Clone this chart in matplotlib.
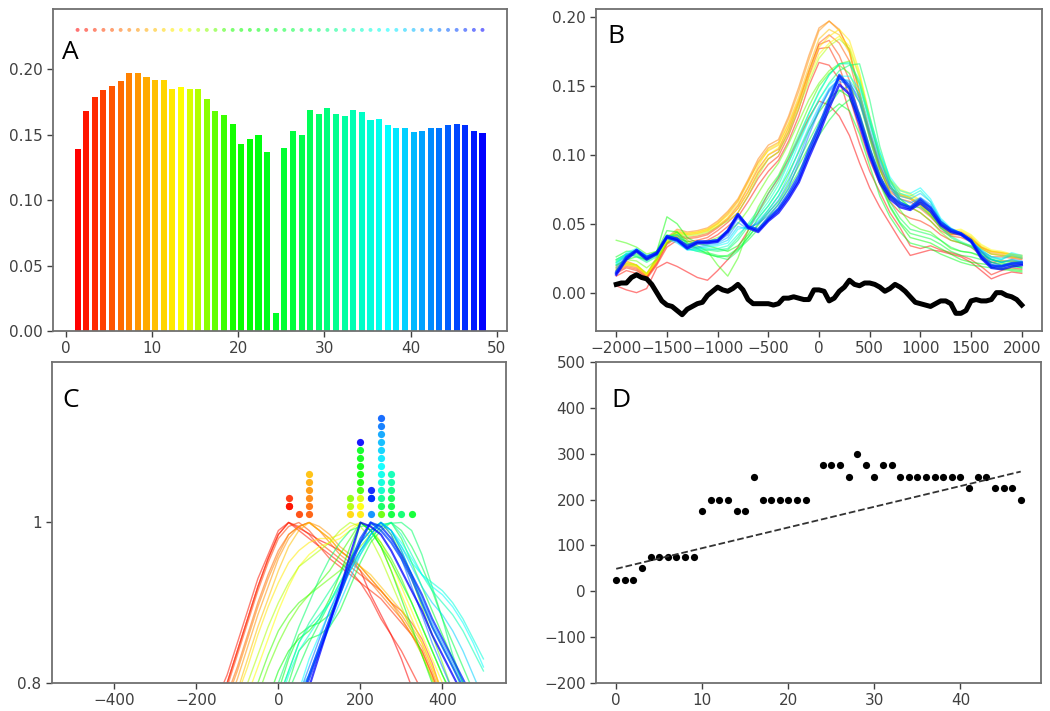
import numpy as np
import matplotlib.pyplot as plt
from matplotlib.colors import hsv_to_rgb

# ---- per-channel summary (48 channels) ----
n_chan = 48
peak_height = [0.139, 0.168, 0.179, 0.184, 0.1875, 0.191, 0.197, 0.197, 0.194, 0.192,
               0.192, 0.185, 0.186, 0.185, 0.185, 0.177, 0.168, 0.165, 0.158, 0.143,
               0.147, 0.150, 0.137, 0.0138, 0.140, 0.153, 0.150, 0.169, 0.166, 0.170,
               0.166, 0.164, 0.169, 0.167, 0.161, 0.162, 0.157, 0.155, 0.155, 0.152,
               0.153, 0.155, 0.155, 0.157, 0.158, 0.157, 0.153, 0.151]
peak_lag = [25, 25, 25, 50, 75, 75, 75, 75, 75, 75,
            175, 200, 200, 200, 175, 175, 250, 200, 200, 200,
            200, 200, 200, 325, 275, 275, 275, 250, 300, 275,
            250, 275, 275, 250, 250, 250, 250, 250, 250, 250,
            250, 225, 250, 250, 225, 225, 225, 200]
# stacking level of each channel's marker above 1.0 in panel C
stack_level = [2, 2, 3, 1, 1, 2, 3, 4, 5, 6,
               1, 1, 2, 3, 2, 3, 1, 4, 5, 6,
               7, 8, 9, 1, 1, 2, 3, 2, 1, 4,
               3, 5, 6, 4, 5, 6, 7, 8, 9, 10,
               11, 1, 12, 13, 3, 3, 4, 10]
control_chan = 23          # shuffled control, drawn in black in B
trend_x = [0, 47]
trend_y = [49, 261]

# ---- cross-correlation traces, lag -2000..2000 ms in 100 ms steps ----
lag_b = np.arange(-2000, 2001, 100)
trace_b00 = [0.005, 0.002, 0.000, 0.003, 0.018, 0.022, 0.019, 0.015, 0.011, 0.009,
             0.016, 0.024, 0.033, 0.045, 0.058, 0.072, 0.083, 0.097, 0.112, 0.127,
             0.139, 0.136, 0.128, 0.114, 0.094, 0.076, 0.062, 0.050, 0.038, 0.027,
             0.029, 0.031, 0.030, 0.028, 0.026, 0.022, 0.016, 0.010, 0.013, 0.015,
             0.014]
trace_b01 = [0.012, 0.016, 0.014, 0.010, 0.020, 0.033, 0.038, 0.035, 0.036, 0.038,
             0.042, 0.048, 0.055, 0.066, 0.078, 0.088, 0.096, 0.110, 0.128, 0.150,
             0.167, 0.165, 0.155, 0.131, 0.108, 0.088, 0.073, 0.058, 0.047, 0.034,
             0.032, 0.034, 0.031, 0.029, 0.027, 0.024, 0.019, 0.013, 0.016, 0.018,
             0.017]
trace_b02 = [0.014, 0.018, 0.016, 0.011, 0.021, 0.035, 0.040, 0.037, 0.038, 0.040,
             0.045, 0.051, 0.058, 0.070, 0.083, 0.093, 0.099, 0.114, 0.133, 0.157,
             0.177, 0.178, 0.164, 0.142, 0.118, 0.096, 0.079, 0.066, 0.058, 0.054,
             0.052, 0.048, 0.042, 0.038, 0.036, 0.033, 0.027, 0.022, 0.023, 0.023,
             0.022]
trace_b03 = [0.015, 0.019, 0.017, 0.011, 0.022, 0.036, 0.041, 0.039, 0.040, 0.042,
             0.047, 0.053, 0.061, 0.073, 0.087, 0.097, 0.102, 0.117, 0.137, 0.160,
             0.180, 0.183, 0.172, 0.154, 0.128, 0.104, 0.085, 0.070, 0.064, 0.062,
             0.058, 0.052, 0.045, 0.041, 0.040, 0.037, 0.030, 0.026, 0.026, 0.025,
             0.024]
trace_b04 = [0.016, 0.020, 0.018, 0.012, 0.023, 0.036, 0.042, 0.040, 0.041, 0.043,
             0.048, 0.054, 0.063, 0.076, 0.090, 0.100, 0.104, 0.120, 0.139, 0.161,
             0.181, 0.187, 0.181, 0.168, 0.140, 0.112, 0.089, 0.073, 0.068, 0.066,
             0.061, 0.055, 0.047, 0.042, 0.043, 0.039, 0.032, 0.028, 0.027, 0.026,
             0.025]
trace_b06 = [0.019, 0.023, 0.020, 0.013, 0.026, 0.040, 0.046, 0.044, 0.045, 0.047,
             0.052, 0.059, 0.068, 0.082, 0.097, 0.107, 0.111, 0.128, 0.149, 0.172,
             0.192, 0.197, 0.191, 0.175, 0.144, 0.114, 0.090, 0.074, 0.070, 0.068,
             0.063, 0.056, 0.047, 0.042, 0.042, 0.039, 0.033, 0.030, 0.029, 0.028,
             0.027]
trace_b07 = [0.017, 0.021, 0.019, 0.012, 0.024, 0.038, 0.044, 0.042, 0.043, 0.045,
             0.050, 0.057, 0.066, 0.080, 0.095, 0.105, 0.109, 0.126, 0.146, 0.169,
             0.190, 0.197, 0.190, 0.176, 0.146, 0.117, 0.093, 0.076, 0.071, 0.069,
             0.064, 0.057, 0.048, 0.043, 0.044, 0.040, 0.033, 0.029, 0.028, 0.026,
             0.025]
trace_b09 = [0.018, 0.022, 0.020, 0.014, 0.025, 0.039, 0.045, 0.043, 0.044, 0.046,
             0.051, 0.058, 0.067, 0.081, 0.094, 0.103, 0.107, 0.123, 0.142, 0.164,
             0.184, 0.191, 0.187, 0.174, 0.145, 0.116, 0.092, 0.076, 0.071, 0.068,
             0.063, 0.056, 0.048, 0.043, 0.044, 0.040, 0.033, 0.030, 0.029, 0.027,
             0.026]
trace_b11 = [0.018, 0.022, 0.020, 0.013, 0.024, 0.038, 0.044, 0.043, 0.044, 0.046,
             0.050, 0.056, 0.064, 0.077, 0.092, 0.104, 0.108, 0.122, 0.140, 0.160,
             0.178, 0.186, 0.191, 0.183, 0.160, 0.128, 0.100, 0.081, 0.074, 0.071,
             0.066, 0.058, 0.050, 0.044, 0.045, 0.041, 0.034, 0.030, 0.029, 0.027,
             0.026]
trace_b12 = [0.016, 0.020, 0.019, 0.013, 0.023, 0.037, 0.043, 0.042, 0.043, 0.045,
             0.049, 0.054, 0.061, 0.073, 0.088, 0.100, 0.105, 0.119, 0.137, 0.156,
             0.173, 0.181, 0.186, 0.179, 0.158, 0.127, 0.100, 0.082, 0.075, 0.072,
             0.067, 0.059, 0.051, 0.045, 0.046, 0.042, 0.035, 0.031, 0.030, 0.028,
             0.027]
trace_b14 = [0.017, 0.021, 0.020, 0.014, 0.024, 0.037, 0.043, 0.041, 0.042, 0.044,
             0.048, 0.052, 0.058, 0.070, 0.085, 0.097, 0.102, 0.116, 0.134, 0.153,
             0.170, 0.179, 0.184, 0.177, 0.156, 0.126, 0.099, 0.080, 0.072, 0.069,
             0.065, 0.057, 0.049, 0.043, 0.043, 0.039, 0.032, 0.028, 0.027, 0.026,
             0.025]
trace_b16 = [0.020, 0.024, 0.023, 0.018, 0.024, 0.036, 0.040, 0.037, 0.036, 0.037,
             0.040, 0.044, 0.050, 0.060, 0.072, 0.084, 0.094, 0.108, 0.124, 0.140,
             0.152, 0.161, 0.166, 0.168, 0.152, 0.124, 0.097, 0.078, 0.068, 0.062,
             0.058, 0.052, 0.044, 0.038, 0.036, 0.034, 0.029, 0.024, 0.023, 0.022,
             0.021]
trace_b17 = [0.038, 0.036, 0.033, 0.028, 0.030, 0.040, 0.044, 0.038, 0.034, 0.030,
             0.020, 0.012, 0.025, 0.045, 0.062, 0.075, 0.085, 0.100, 0.118, 0.135,
             0.150, 0.159, 0.165, 0.159, 0.142, 0.115, 0.090, 0.072, 0.060, 0.050,
             0.046, 0.044, 0.038, 0.032, 0.030, 0.029, 0.026, 0.022, 0.021, 0.020,
             0.019]
trace_b20 = [0.020, 0.024, 0.026, 0.024, 0.030, 0.055, 0.050, 0.040, 0.036, 0.034,
             0.032, 0.030, 0.034, 0.042, 0.054, 0.063, 0.074, 0.087, 0.102, 0.118,
             0.131, 0.141, 0.147, 0.142, 0.125, 0.102, 0.079, 0.062, 0.050, 0.040,
             0.038, 0.036, 0.032, 0.028, 0.024, 0.022, 0.021, 0.020, 0.018, 0.017,
             0.016]
trace_b22 = [0.026, 0.030, 0.030, 0.026, 0.030, 0.045, 0.044, 0.036, 0.032, 0.028,
             0.026, 0.027, 0.032, 0.040, 0.049, 0.058, 0.066, 0.078, 0.092, 0.106,
             0.120, 0.131, 0.137, 0.132, 0.115, 0.092, 0.070, 0.055, 0.044, 0.036,
             0.034, 0.032, 0.028, 0.025, 0.022, 0.020, 0.019, 0.018, 0.017, 0.016,
             0.015]
trace_b24 = [0.024, 0.028, 0.029, 0.025, 0.029, 0.042, 0.040, 0.034, 0.031, 0.029,
             0.027, 0.026, 0.031, 0.038, 0.046, 0.055, 0.064, 0.075, 0.088, 0.101,
             0.114, 0.125, 0.134, 0.140, 0.130, 0.106, 0.082, 0.063, 0.051, 0.043,
             0.041, 0.039, 0.035, 0.030, 0.027, 0.026, 0.024, 0.022, 0.020, 0.019,
             0.018]
trace_b26 = [0.022, 0.026, 0.028, 0.024, 0.028, 0.040, 0.038, 0.032, 0.030, 0.028,
             0.026, 0.024, 0.030, 0.040, 0.050, 0.060, 0.070, 0.082, 0.096, 0.110,
             0.124, 0.136, 0.146, 0.150, 0.138, 0.112, 0.086, 0.066, 0.054, 0.046,
             0.044, 0.042, 0.038, 0.033, 0.030, 0.029, 0.027, 0.024, 0.022, 0.020,
             0.018]
trace_b28 = [0.023, 0.027, 0.027, 0.023, 0.027, 0.041, 0.042, 0.035, 0.032, 0.031,
             0.030, 0.031, 0.038, 0.048, 0.058, 0.069, 0.081, 0.095, 0.110, 0.126,
             0.140, 0.152, 0.161, 0.165, 0.166, 0.140, 0.106, 0.082, 0.068, 0.062,
             0.062, 0.056, 0.047, 0.040, 0.036, 0.033, 0.028, 0.024, 0.022, 0.023,
             0.022]
trace_b30 = [0.024, 0.028, 0.026, 0.022, 0.026, 0.040, 0.042, 0.036, 0.033, 0.032,
             0.031, 0.032, 0.040, 0.050, 0.060, 0.072, 0.084, 0.098, 0.114, 0.130,
             0.145, 0.158, 0.166, 0.166, 0.151, 0.125, 0.098, 0.078, 0.066, 0.062,
             0.064, 0.058, 0.048, 0.041, 0.037, 0.034, 0.029, 0.024, 0.022, 0.024,
             0.022]
trace_b33 = [0.022, 0.028, 0.030, 0.026, 0.027, 0.040, 0.038, 0.032, 0.030, 0.031,
             0.032, 0.034, 0.042, 0.049, 0.056, 0.066, 0.078, 0.094, 0.112, 0.130,
             0.146, 0.158, 0.166, 0.167, 0.154, 0.128, 0.102, 0.082, 0.072, 0.070,
             0.074, 0.066, 0.052, 0.045, 0.042, 0.036, 0.030, 0.025, 0.024, 0.028,
             0.026]
trace_b36 = [0.021, 0.029, 0.032, 0.027, 0.028, 0.040, 0.037, 0.031, 0.031, 0.033,
             0.034, 0.036, 0.046, 0.048, 0.054, 0.063, 0.074, 0.090, 0.108, 0.125,
             0.140, 0.151, 0.157, 0.157, 0.148, 0.126, 0.102, 0.084, 0.074, 0.072,
             0.076, 0.068, 0.054, 0.047, 0.043, 0.037, 0.031, 0.026, 0.025, 0.029,
             0.027]
trace_b38 = [0.020, 0.028, 0.031, 0.026, 0.028, 0.039, 0.036, 0.031, 0.032, 0.034,
             0.035, 0.038, 0.048, 0.046, 0.052, 0.060, 0.070, 0.085, 0.103, 0.120,
             0.135, 0.148, 0.155, 0.154, 0.144, 0.122, 0.098, 0.080, 0.070, 0.068,
             0.072, 0.066, 0.053, 0.046, 0.042, 0.037, 0.031, 0.026, 0.024, 0.027,
             0.025]
trace_b40 = [0.018, 0.027, 0.030, 0.026, 0.028, 0.040, 0.037, 0.032, 0.033, 0.035,
             0.036, 0.040, 0.051, 0.046, 0.051, 0.058, 0.067, 0.080, 0.098, 0.117,
             0.133, 0.146, 0.153, 0.152, 0.141, 0.118, 0.095, 0.078, 0.068, 0.065,
             0.069, 0.064, 0.052, 0.046, 0.042, 0.037, 0.030, 0.024, 0.022, 0.024,
             0.023]
trace_b42 = [0.016, 0.026, 0.030, 0.025, 0.028, 0.040, 0.038, 0.033, 0.035, 0.036,
             0.037, 0.042, 0.054, 0.047, 0.050, 0.056, 0.064, 0.076, 0.094, 0.114,
             0.132, 0.147, 0.155, 0.153, 0.138, 0.115, 0.092, 0.076, 0.066, 0.062,
             0.066, 0.062, 0.052, 0.046, 0.043, 0.038, 0.030, 0.022, 0.020, 0.022,
             0.022]
trace_b44 = [0.015, 0.026, 0.031, 0.026, 0.029, 0.041, 0.039, 0.034, 0.037, 0.037,
             0.038, 0.045, 0.057, 0.048, 0.046, 0.054, 0.061, 0.072, 0.085, 0.104,
             0.121, 0.140, 0.158, 0.150, 0.128, 0.104, 0.084, 0.071, 0.065, 0.062,
             0.068, 0.062, 0.051, 0.046, 0.043, 0.038, 0.027, 0.020, 0.019, 0.021,
             0.022]
trace_b45 = [0.014, 0.025, 0.031, 0.025, 0.029, 0.041, 0.039, 0.033, 0.037, 0.037,
             0.038, 0.045, 0.057, 0.048, 0.045, 0.053, 0.060, 0.070, 0.082, 0.101,
             0.118, 0.138, 0.157, 0.148, 0.125, 0.101, 0.082, 0.070, 0.064, 0.061,
             0.067, 0.061, 0.050, 0.045, 0.043, 0.038, 0.026, 0.019, 0.019, 0.021,
             0.021]
trace_b47 = [0.013, 0.024, 0.030, 0.024, 0.028, 0.040, 0.038, 0.032, 0.036, 0.036,
             0.037, 0.044, 0.056, 0.047, 0.044, 0.052, 0.058, 0.068, 0.080, 0.098,
             0.115, 0.134, 0.151, 0.144, 0.122, 0.099, 0.080, 0.068, 0.062, 0.060,
             0.065, 0.059, 0.049, 0.044, 0.042, 0.037, 0.025, 0.018, 0.017, 0.019,
             0.020]
b_traces = [(0, trace_b00), (1, trace_b01), (2, trace_b02), (3, trace_b03),
            (4, trace_b04), (6, trace_b06), (7, trace_b07), (9, trace_b09),
            (11, trace_b11), (12, trace_b12), (14, trace_b14), (16, trace_b16),
            (17, trace_b17), (20, trace_b20), (22, trace_b22), (24, trace_b24),
            (26, trace_b26), (28, trace_b28), (30, trace_b30), (33, trace_b33),
            (36, trace_b36), (38, trace_b38), (40, trace_b40), (42, trace_b42),
            (44, trace_b44), (45, trace_b45), (47, trace_b47)]

# control channel, 50 ms steps
lag_ctrl = np.arange(-2000, 2001, 50)
trace_ctrl = [0.006, 0.007, 0.007, 0.011, 0.013, 0.011, 0.010, 0.006, 0.000, -0.006,
              -0.009, -0.010, -0.013, -0.016, -0.012, -0.010, -0.008, -0.007, -0.002, 0.001,
              0.004, 0.002, 0.001, 0.003, 0.006, 0.002, -0.005, -0.008, -0.008, -0.008,
              -0.008, -0.009, -0.008, -0.004, -0.004, -0.003, -0.004, -0.005, -0.005, 0.002,
              0.002, 0.001, -0.006, -0.004, 0.001, 0.004, 0.009, 0.006, 0.005, 0.007,
              0.007, 0.006, 0.004, 0.001, 0.003, 0.006, 0.004, 0.001, -0.003, -0.007,
              -0.008, -0.009, -0.010, -0.008, -0.006, -0.006, -0.008, -0.015, -0.015, -0.013,
              -0.006, -0.005, -0.006, -0.006, -0.005, 0.000, 0.000, -0.002, -0.003, -0.005,
              -0.009]

# ---- normalised traces around the peak, lag -200..500 ms in 25 ms steps ----
lag_c = np.arange(-200, 501, 25)
norm_c00 = [0.70, 0.73, 0.77, 0.80, 0.84, 0.88, 0.92, 0.955, 0.985, 1.0,
            0.993, 0.986, 0.978, 0.972, 0.965, 0.955, 0.94, 0.91, 0.885, 0.86,
            0.83, 0.795, 0.76, 0.72, 0.68, 0.64, 0.60, 0.56, 0.52]
norm_c01 = [0.71, 0.745, 0.78, 0.81, 0.85, 0.89, 0.93, 0.96, 0.99, 1.0,
            0.99, 0.98, 0.97, 0.96, 0.95, 0.94, 0.925, 0.905, 0.88, 0.86,
            0.84, 0.815, 0.79, 0.76, 0.73, 0.70, 0.66, 0.62, 0.58]
norm_c02 = [0.70, 0.735, 0.77, 0.80, 0.84, 0.88, 0.92, 0.955, 0.985, 1.0,
            0.995, 0.985, 0.97, 0.955, 0.945, 0.935, 0.925, 0.915, 0.905, 0.89,
            0.875, 0.86, 0.84, 0.81, 0.775, 0.74, 0.70, 0.66, 0.62]
norm_c03 = [0.69, 0.72, 0.76, 0.795, 0.835, 0.875, 0.915, 0.95, 0.98, 0.995,
            1.0, 0.99, 0.975, 0.965, 0.955, 0.945, 0.935, 0.925, 0.915, 0.90,
            0.89, 0.875, 0.855, 0.825, 0.785, 0.75, 0.71, 0.67, 0.63]
norm_c05 = [0.69, 0.72, 0.755, 0.785, 0.82, 0.86, 0.90, 0.935, 0.965, 0.985,
            0.995, 1.0, 0.99, 0.975, 0.96, 0.95, 0.94, 0.925, 0.91, 0.895,
            0.88, 0.86, 0.84, 0.81, 0.775, 0.74, 0.70, 0.66, 0.62]
norm_c06 = [0.68, 0.71, 0.745, 0.78, 0.815, 0.855, 0.895, 0.93, 0.96, 0.985,
            0.995, 1.0, 0.99, 0.98, 0.965, 0.955, 0.945, 0.93, 0.915, 0.90,
            0.885, 0.865, 0.845, 0.815, 0.78, 0.745, 0.705, 0.665, 0.625]
norm_c07 = [0.67, 0.70, 0.735, 0.77, 0.805, 0.845, 0.885, 0.92, 0.955, 0.98,
            0.995, 1.0, 0.995, 0.985, 0.97, 0.96, 0.945, 0.93, 0.915, 0.90,
            0.88, 0.86, 0.835, 0.805, 0.77, 0.735, 0.70, 0.66, 0.62]
norm_c09 = [0.65, 0.685, 0.72, 0.755, 0.79, 0.83, 0.87, 0.905, 0.94, 0.97,
            0.99, 1.0, 0.99, 0.98, 0.965, 0.955, 0.945, 0.935, 0.92, 0.905,
            0.89, 0.87, 0.85, 0.82, 0.785, 0.75, 0.71, 0.67, 0.63]
norm_c11 = [0.66, 0.69, 0.72, 0.75, 0.785, 0.82, 0.86, 0.895, 0.925, 0.95,
            0.965, 0.975, 0.98, 0.98, 0.985, 0.995, 1.0, 0.99, 0.97, 0.94,
            0.91, 0.88, 0.85, 0.82, 0.79, 0.76, 0.72, 0.68, 0.64]
norm_c12 = [0.63, 0.66, 0.69, 0.72, 0.75, 0.785, 0.82, 0.855, 0.89, 0.92,
            0.945, 0.96, 0.97, 0.975, 0.98, 0.99, 1.0, 0.995, 0.975, 0.95,
            0.92, 0.89, 0.86, 0.83, 0.80, 0.77, 0.735, 0.695, 0.655]
norm_c14 = [0.64, 0.67, 0.70, 0.73, 0.765, 0.80, 0.835, 0.87, 0.90, 0.925,
            0.945, 0.955, 0.965, 0.975, 0.99, 1.0, 0.995, 0.98, 0.955, 0.925,
            0.895, 0.865, 0.835, 0.805, 0.775, 0.745, 0.71, 0.675, 0.64]
norm_c16 = [0.58, 0.61, 0.645, 0.68, 0.715, 0.75, 0.785, 0.82, 0.85, 0.875,
            0.895, 0.91, 0.92, 0.93, 0.94, 0.955, 0.97, 0.985, 1.0, 0.985,
            0.96, 0.93, 0.895, 0.86, 0.825, 0.79, 0.755, 0.72, 0.685]
norm_c17 = [0.55, 0.60, 0.64, 0.68, 0.72, 0.76, 0.80, 0.835, 0.865, 0.885,
            0.90, 0.91, 0.925, 0.94, 0.96, 0.98, 1.0, 0.99, 0.975, 0.955,
            0.93, 0.90, 0.87, 0.84, 0.81, 0.78, 0.75, 0.72, 0.69]
norm_c20 = [0.50, 0.54, 0.58, 0.62, 0.66, 0.70, 0.74, 0.78, 0.815, 0.84,
            0.855, 0.865, 0.88, 0.905, 0.935, 0.97, 1.0, 0.99, 0.97, 0.94,
            0.905, 0.87, 0.835, 0.80, 0.765, 0.73, 0.695, 0.66, 0.63]
norm_c22 = [0.47, 0.51, 0.55, 0.59, 0.63, 0.67, 0.71, 0.75, 0.79, 0.83,
            0.86, 0.87, 0.875, 0.885, 0.91, 0.95, 1.0, 0.99, 0.97, 0.95,
            0.925, 0.90, 0.87, 0.84, 0.81, 0.785, 0.76, 0.735, 0.71]
norm_c24 = [0.44, 0.48, 0.52, 0.56, 0.60, 0.64, 0.68, 0.72, 0.76, 0.80,
            0.84, 0.855, 0.86, 0.87, 0.89, 0.92, 0.95, 0.975, 0.99, 1.0,
            0.98, 0.95, 0.92, 0.89, 0.86, 0.83, 0.80, 0.775, 0.75]
norm_c26 = [0.52, 0.55, 0.58, 0.61, 0.64, 0.67, 0.70, 0.73, 0.76, 0.79,
            0.82, 0.85, 0.875, 0.90, 0.925, 0.945, 0.965, 0.98, 0.995, 1.0,
            0.99, 0.97, 0.945, 0.915, 0.88, 0.85, 0.82, 0.79, 0.76]
norm_c28 = [0.48, 0.52, 0.56, 0.60, 0.64, 0.68, 0.72, 0.76, 0.80, 0.835,
            0.87, 0.90, 0.93, 0.955, 0.975, 0.99, 0.995, 0.997, 0.998, 0.999,
            1.0, 0.99, 0.96, 0.92, 0.88, 0.835, 0.80, 0.77, 0.74]
norm_c30 = [0.50, 0.53, 0.56, 0.59, 0.62, 0.66, 0.70, 0.74, 0.78, 0.815,
            0.85, 0.875, 0.895, 0.915, 0.935, 0.955, 0.975, 0.99, 1.0, 0.99,
            0.965, 0.935, 0.90, 0.87, 0.845, 0.82, 0.79, 0.76, 0.73]
norm_c32 = [0.46, 0.50, 0.54, 0.58, 0.62, 0.66, 0.70, 0.74, 0.78, 0.815,
            0.85, 0.87, 0.885, 0.90, 0.92, 0.94, 0.96, 0.98, 0.995, 1.0,
            0.985, 0.96, 0.935, 0.915, 0.90, 0.885, 0.865, 0.84, 0.815]
norm_c34 = [0.45, 0.49, 0.53, 0.57, 0.61, 0.65, 0.69, 0.73, 0.77, 0.81,
            0.84, 0.86, 0.88, 0.90, 0.925, 0.95, 0.975, 0.99, 1.0, 0.99,
            0.97, 0.95, 0.935, 0.925, 0.915, 0.90, 0.88, 0.855, 0.83]
norm_c36 = [0.40, 0.44, 0.48, 0.52, 0.56, 0.60, 0.64, 0.68, 0.72, 0.76,
            0.79, 0.83, 0.86, 0.89, 0.915, 0.94, 0.965, 0.985, 1.0, 0.99,
            0.975, 0.955, 0.935, 0.92, 0.91, 0.895, 0.875, 0.85, 0.82]
norm_c38 = [0.42, 0.46, 0.50, 0.54, 0.58, 0.62, 0.66, 0.70, 0.74, 0.77,
            0.79, 0.81, 0.84, 0.87, 0.90, 0.93, 0.96, 0.985, 1.0, 0.99,
            0.97, 0.945, 0.92, 0.90, 0.885, 0.865, 0.84, 0.81, 0.78]
norm_c40 = [0.38, 0.42, 0.46, 0.50, 0.54, 0.58, 0.62, 0.66, 0.70, 0.74,
            0.775, 0.81, 0.845, 0.88, 0.91, 0.94, 0.965, 0.985, 1.0, 0.99,
            0.965, 0.935, 0.905, 0.875, 0.85, 0.825, 0.80, 0.775, 0.75]
norm_c42 = [0.40, 0.44, 0.48, 0.52, 0.56, 0.60, 0.64, 0.68, 0.72, 0.755,
            0.785, 0.82, 0.855, 0.89, 0.92, 0.95, 0.975, 0.99, 1.0, 0.985,
            0.955, 0.92, 0.885, 0.85, 0.82, 0.79, 0.765, 0.74, 0.72]
norm_c44 = [0.36, 0.40, 0.44, 0.48, 0.52, 0.56, 0.605, 0.65, 0.69, 0.735,
            0.775, 0.81, 0.845, 0.88, 0.915, 0.95, 0.98, 1.0, 0.99, 0.975,
            0.955, 0.93, 0.90, 0.87, 0.845, 0.82, 0.795, 0.77, 0.75]
norm_c45 = [0.35, 0.39, 0.43, 0.47, 0.51, 0.55, 0.60, 0.65, 0.69, 0.73,
            0.77, 0.805, 0.84, 0.875, 0.91, 0.945, 0.975, 1.0, 0.995, 0.98,
            0.96, 0.935, 0.91, 0.88, 0.855, 0.83, 0.805, 0.78, 0.76]
norm_c47 = [0.34, 0.38, 0.42, 0.46, 0.50, 0.54, 0.59, 0.64, 0.68, 0.72,
            0.76, 0.795, 0.835, 0.875, 0.915, 0.96, 1.0, 0.995, 0.985, 0.965,
            0.94, 0.915, 0.89, 0.86, 0.835, 0.81, 0.785, 0.76, 0.74]
c_traces = [(0, norm_c00), (1, norm_c01), (2, norm_c02), (3, norm_c03),
            (5, norm_c05), (6, norm_c06), (7, norm_c07), (9, norm_c09),
            (11, norm_c11), (12, norm_c12), (14, norm_c14), (16, norm_c16),
            (17, norm_c17), (20, norm_c20), (22, norm_c22), (24, norm_c24),
            (26, norm_c26), (28, norm_c28), (30, norm_c30), (32, norm_c32),
            (34, norm_c34), (36, norm_c36), (38, norm_c38), (40, norm_c40),
            (42, norm_c42), (44, norm_c44), (45, norm_c45), (47, norm_c47)]

# red -> yellow -> green -> cyan -> blue, green held a little longer
hue_knots_chan = [0, 12, 18, 27, 36, 47]
hue_knots_val = [0.0, 1 / 6, 0.32, 0.39, 0.5, 2 / 3]
hues = np.interp(np.arange(n_chan), hue_knots_chan, hue_knots_val)
chan_colors = hsv_to_rgb(np.column_stack([hues, np.ones(n_chan), np.ones(n_chan)]))

TICK_COLOR = '#404040'
SPINE_COLOR = '#707070'


def style(ax):
    for sp in ax.spines.values():
        sp.set_color(SPINE_COLOR)
        sp.set_linewidth(1.3)
    ax.tick_params(labelsize=11, colors=TICK_COLOR, length=4, width=1.0)


def panel_label(ax, txt, x, y):
    ax.text(x, y, txt, transform=ax.transAxes, fontsize=19,
            family='Open Sans', color='black', ha='left', va='baseline')


def minus(vals):
    return [str(v).replace('-', '\u2212') for v in vals]


fig = plt.figure(figsize=(10.5, 7.11), dpi=100)
fig.patch.set_facecolor('white')

# ---- A: peak height per channel ----
ax_a = fig.add_axes([0.0505, 0.5345, 0.4324, 0.4529])
chan_x = np.arange(1, n_chan + 1) + 0.35
ax_a.bar(chan_x, peak_height, width=0.7, color=chan_colors)
ax_a.scatter(chan_x, np.full(n_chan, 0.23), s=8, c=chan_colors, alpha=0.55, linewidths=0)
ax_a.set_xlim(-1.5, 51.2)
ax_a.set_ylim(0, 0.246)
ax_a.set_xticks(range(0, 51, 10))
ax_a.set_yticks(np.arange(0, 0.201, 0.05))
ax_a.set_yticklabels(['%.2f' % v for v in np.arange(0, 0.201, 0.05)])
style(ax_a)
panel_label(ax_a, 'A', 0.02, 0.845)

# ---- B: traces over +-2 s ----
ax_b = fig.add_axes([0.5676, 0.5345, 0.4248, 0.4529])
for idx, tr in b_traces:
    thick = idx >= 44
    ax_b.plot(lag_b, tr, color=chan_colors[idx], lw=1.8 if thick else 1.0,
              alpha=0.75 if thick else 0.5)
ax_b.plot(lag_ctrl, trace_ctrl, color='black', lw=3.6, solid_joinstyle='round')
ax_b.set_xlim(-2200, 2200)
ax_b.set_ylim(-0.0278, 0.2058)
ax_b.set_xticks(range(-2000, 2001, 500))
ax_b.set_xticklabels(minus(range(-2000, 2001, 500)))
ax_b.set_yticks(np.arange(0, 0.201, 0.05))
ax_b.set_yticklabels(['%.2f' % v for v in np.arange(0, 0.201, 0.05)])
style(ax_b)
panel_label(ax_b, 'B', 0.025, 0.894)

# ---- C: normalised traces near the peak + peak-lag stacks ----
ax_c = fig.add_axes([0.0495, 0.0394, 0.4324, 0.4515])
for idx, tr in c_traces:
    thick = idx >= 44
    ax_c.plot(lag_c, tr, color=chan_colors[idx], lw=1.5 if thick else 1.0,
              alpha=0.75 if thick else 0.55)
for i in range(n_chan):
    ax_c.plot(peak_lag[i], 1 + 0.01 * stack_level[i], 'o', ms=5.2,
              color=chan_colors[i], alpha=0.9, mec='none')
ax_c.set_xlim(-552, 555)
ax_c.set_ylim(0.8, 1.2)
ax_c.set_xticks(range(-400, 401, 200))
ax_c.set_xticklabels(minus(range(-400, 401, 200)))
ax_c.set_yticks([0.8, 1])
ax_c.set_yticklabels(['0.8', '1'])
style(ax_c)
panel_label(ax_c, 'C', 0.024, 0.86)

# ---- D: peak lag per channel ----
ax_d = fig.add_axes([0.5676, 0.0394, 0.4238, 0.4515])
keep = [i for i in range(n_chan) if i != control_chan]
ax_d.plot(keep, [peak_lag[i] for i in keep], 'o', ms=5.2, color='black', mec='none')
ax_d.plot(trend_x, trend_y, '--', color='#333333', lw=1.3)
ax_d.set_xlim(-2.35, 49.35)
ax_d.set_ylim(-200, 500)
ax_d.set_xticks(range(0, 41, 10))
ax_d.set_yticks(range(-200, 501, 100))
ax_d.set_yticklabels(minus(range(-200, 501, 100)))
style(ax_d)
panel_label(ax_d, 'D', 0.034, 0.86)

fig.savefig('out.png', dpi=100, facecolor='white')
